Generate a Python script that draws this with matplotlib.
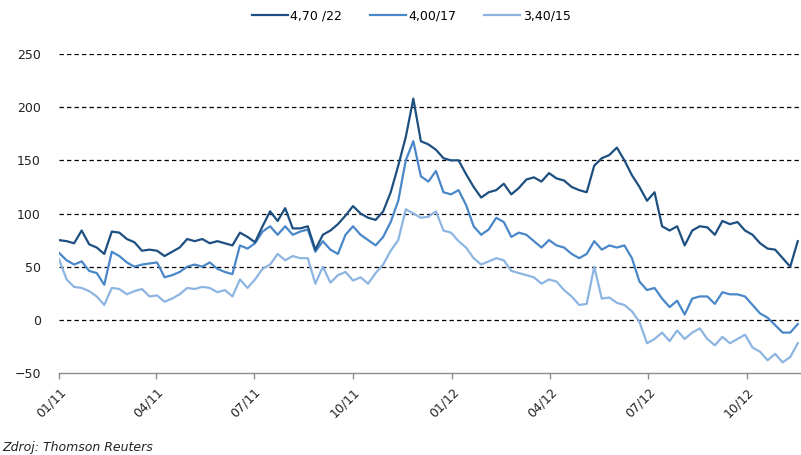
import matplotlib
matplotlib.use('Agg')
import matplotlib.pyplot as plt
import matplotlib.dates as mdates
import pandas as pd

# weekly readings, Jan 2011 - Nov 2012
dates = pd.date_range('2011-01-01', periods=99, freq='7D')

bond_2022 = [75, 74, 72, 84, 71, 68, 62, 83, 82, 76,
             73, 65, 66, 65, 60, 64, 68, 76, 74, 76,
             72, 74, 72, 70, 82, 78, 73, 88, 102, 93,
             105, 86, 86, 88, 66, 80, 84, 90, 98, 107,
             100, 96, 94, 102, 120, 145, 172, 208, 168, 165,
             160, 152, 150, 150, 137, 125, 115, 120, 122, 128,
             118, 124, 132, 134, 130, 138, 133, 131, 125, 122,
             120, 145, 152, 155, 162, 150, 136, 125, 112, 120,
             88, 84, 88, 70, 84, 88, 87, 80, 93, 90,
             92, 84, 80, 72, 67, 66, 58, 50, 74]

bond_2017 = [63, 56, 52, 55, 46, 44, 33, 64, 60, 54,
             50, 52, 53, 54, 40, 42, 45, 50, 52, 50,
             54, 48, 45, 43, 70, 67, 72, 83, 88, 80,
             88, 80, 83, 85, 64, 74, 66, 62, 80, 88,
             80, 75, 70, 78, 92, 112, 150, 168, 135, 130,
             140, 120, 118, 122, 108, 88, 80, 85, 96, 92,
             78, 82, 80, 74, 68, 75, 70, 68, 62, 58,
             62, 74, 66, 70, 68, 70, 58, 36, 28, 30,
             20, 12, 18, 5, 20, 22, 22, 15, 26, 24,
             24, 22, 14, 6, 2, -5, -12, -12, -4]

bond_2015 = [57, 38, 31, 30, 27, 22, 14, 30, 29, 24,
             27, 29, 22, 23, 17, 20, 24, 30, 29, 31,
             30, 26, 28, 22, 38, 30, 38, 48, 52, 62,
             56, 60, 58, 58, 34, 50, 35, 42, 45, 37,
             40, 34, 44, 52, 65, 75, 104, 100, 96, 97,
             102, 84, 82, 74, 68, 58, 52, 55, 58, 56,
             46, 44, 42, 40, 34, 38, 36, 28, 22, 14,
             15, 50, 20, 21, 16, 14, 8, -2, -22, -18,
             -12, -20, -10, -18, -12, -8, -18, -24, -16, -22,
             -18, -14, -26, -30, -38, -32, -40, -35, -22]

labels = ['4,70 /22', '4,00/17', '3,40/15']
colors = ['#1d4f80', '#4a87c8', '#8db5e1']
y_ticks = [-50, 0, 50, 100, 150, 200, 250]

fig = plt.figure(figsize=(8.01, 4.55), dpi=100)
ax = fig.add_axes([0.0737, 0.1802, 0.9263, 0.7011])

series = [bond_2022, bond_2017, bond_2015]
handles = []
for vals, lab, col, z in zip(series, labels, colors, [5, 4, 3]):
    h, = ax.plot(dates, vals, color=col, linewidth=1.6, label=lab, zorder=z)
    handles.append(h)

# dashed grid lines
for yv in y_ticks[1:]:
    ax.axhline(yv, color='black', linestyle=(0, (3.5, 2.5)), linewidth=0.9, zorder=1)

ax.set_ylim(-50, 250)
ax.set_yticks(y_ticks)
ax.set_xlim(pd.Timestamp('2011-01-01'), pd.Timestamp('2012-11-20'))
ax.xaxis.set_major_locator(mdates.MonthLocator(bymonth=[1, 4, 7, 10]))
ax.xaxis.set_major_formatter(mdates.DateFormatter('%m/%y'))

for s in ['left', 'right', 'top']:
    ax.spines[s].set_visible(False)
ax.spines['bottom'].set_color('#8c8c8c')
ax.spines['bottom'].set_linewidth(1.0)

ax.tick_params(axis='y', length=0, pad=13, labelsize=9, labelcolor='#222222')
ax.tick_params(axis='x', length=4, color='#8c8c8c', width=1, pad=5,
               labelsize=9, labelcolor='#222222')
for t in ax.get_xticklabels():
    t.set_rotation(45)
    t.set_ha('right')
    t.set_va('top')
    t.set_rotation_mode('anchor')

fig.legend(handles=handles, labels=labels, loc='center',
           bbox_to_anchor=(411 / 801, 1 - 16 / 455), ncol=3, frameon=False,
           fontsize=9, handlelength=2.9, handletextpad=0.2, columnspacing=2.2)

fig.text(0.003, 0.008, 'Zdroj: Thomson Reuters', fontsize=9, style='italic',
         color='#222222', ha='left', va='baseline')

fig.savefig('out.png', dpi=100)
